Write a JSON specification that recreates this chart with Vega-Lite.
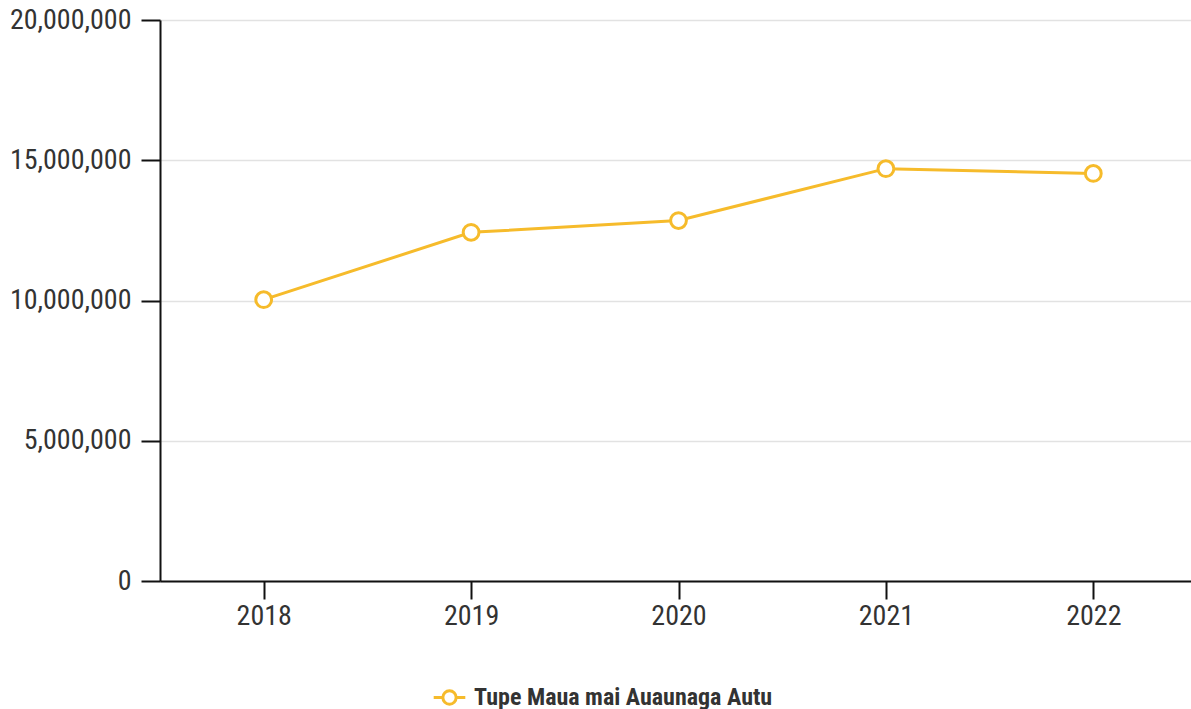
{
  "$schema": "https://vega.github.io/schema/vega-lite/v6.json",
  "autosize": "none",
  "padding": {"left": 160, "top": 20, "right": 0, "bottom": 128},
  "width": 1037,
  "height": 561,
  "background": "white",
  "data": {
    "values": [
      {"year": "2018", "value": 10030000, "series": "Tupe Maua mai Auaunaga Autu"},
      {"year": "2019", "value": 12430000, "series": "Tupe Maua mai Auaunaga Autu"},
      {"year": "2020", "value": 12850000, "series": "Tupe Maua mai Auaunaga Autu"},
      {"year": "2021", "value": 14700000, "series": "Tupe Maua mai Auaunaga Autu"},
      {"year": "2022", "value": 14530000, "series": "Tupe Maua mai Auaunaga Autu"}
    ]
  },
  "mark": {
    "type": "line",
    "strokeWidth": 3,
    "point": {"filled": false, "fill": "white", "size": 250, "strokeWidth": 3}
  },
  "encoding": {
    "x": {
      "field": "year",
      "type": "ordinal",
      "scale": {"type": "point", "padding": 0.5},
      "axis": {
        "title": null,
        "labelAngle": 0,
        "grid": false,
        "domainColor": "#111",
        "domainWidth": 2,
        "tickColor": "#111",
        "tickWidth": 2,
        "tickSize": 18,
        "labelPadding": 3,
        "labelFontSize": 28,
        "labelColor": "#333",
        "labelFont": "Roboto Condensed, Roboto, sans-serif"
      }
    },
    "y": {
      "field": "value",
      "type": "quantitative",
      "scale": {"domain": [0, 20000000], "nice": false},
      "axis": {
        "title": null,
        "values": [0, 5000000, 10000000, 15000000, 20000000],
        "format": ",d",
        "grid": true,
        "gridColor": "#e2e2e2",
        "gridWidth": 1.5,
        "domainColor": "#111",
        "domainWidth": 2,
        "tickColor": "#111",
        "tickWidth": 2,
        "tickSize": 19,
        "labelPadding": 10,
        "labelFontSize": 28,
        "labelColor": "#333",
        "labelFont": "Roboto Condensed, Roboto, sans-serif"
      }
    },
    "color": {
      "field": "series",
      "type": "nominal",
      "scale": {"range": ["#F6BB2B"]},
      "legend": {
        "title": null,
        "orient": "none",
        "legendX": 272,
        "legendY": 660,
        "symbolType": "M-1,0L-0.42,0M0.42,0L1,0M0.42,0A0.42,0.42 0 1,1 -0.42,0A0.42,0.42 0 1,1 0.42,0Z",
        "symbolSize": 1000,
        "symbolStrokeWidth": 3,
        "symbolFillColor": "white",
        "labelFontSize": 24,
        "labelFontWeight": "bold",
        "labelColor": "#333",
        "labelFont": "Roboto Condensed, Roboto, sans-serif",
        "labelLimit": 600,
        "labelOffset": 7
      }
    }
  },
  "config": {"view": {"stroke": null}}
}
